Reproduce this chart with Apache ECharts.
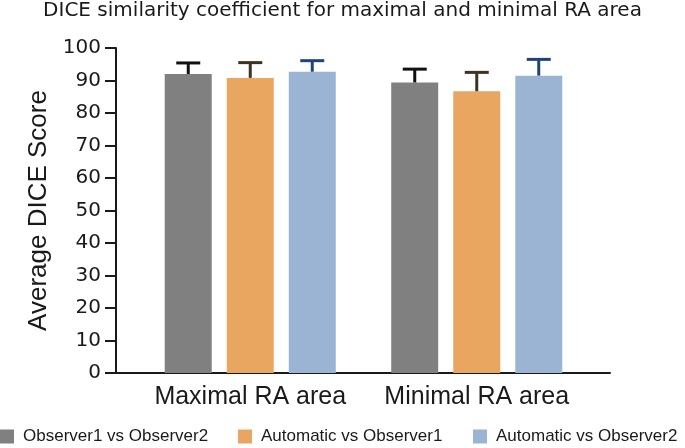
<!DOCTYPE html>
<html>
<head>
<meta charset="utf-8">
<script src="https://cdn.jsdelivr.net/npm/echarts@6/dist/echarts.min.js"></script>
<style>html,body{margin:0;padding:0;background:#fff;}#c{width:685px;height:448px;}</style>
</head>
<body>
<div id="c"></div>
<script>
var categories = ['Maximal RA area', 'Minimal RA area'];
var seriesNames = ['Observer1 vs Observer2', 'Automatic vs Observer1', 'Automatic vs Observer2'];
var obs1VsObs2 = [92.0, 89.4];
var autoVsObs1 = [90.8, 86.7];
var autoVsObs2 = [92.7, 91.5];
var errObs1VsObs2 = [3.4, 4.1];
var errAutoVsObs1 = [4.7, 5.8];
var errAutoVsObs2 = [3.4, 5.0];
var yTicks = [0, 10, 20, 30, 40, 50, 60, 70, 80, 90, 100];

var means = [obs1VsObs2, autoVsObs1, autoVsObs2];
var errs = [errObs1VsObs2, errAutoVsObs1, errAutoVsObs2];
var barColors = ['#808080', '#e8a661', '#9bb4d4'];
var errColors = ['#111111', '#3e3222', '#214476'];
var FONT = 'Liberation Sans, Arial, sans-serif';
var WIDE = 'DejaVu Sans, sans-serif';
var TXT = '#1a1a1a';

var chart = echarts.init(document.getElementById('c'));
var series = [];
means.forEach(function (m, i) {
  series.push({
    name: seriesNames[i], type: 'bar', xAxisIndex: 1, yAxisIndex: 1,
    data: m, barWidth: 47, barGap: '32%',
    itemStyle: { color: barColors[i] }, z: 2
  });
});
means.forEach(function (m, i) {
  series.push({
    type: 'custom', xAxisIndex: 1, yAxisIndex: 1, z: 3,
    data: m.map(function (v, k) { return [k, v, v + errs[i][k]]; }),
    renderItem: function (params, api) {
      var top = api.coord([api.value(0), api.value(2)]);
      var base = api.coord([api.value(0), api.value(1)]);
      var off = (i - 1) * 62;
      var x = top[0] + off;
      var st = { stroke: errColors[i], lineWidth: 3 };
      return { type: 'group', children: [
        { type: 'line', shape: { x1: x, y1: base[1], x2: x, y2: top[1] }, style: st },
        { type: 'line', shape: { x1: x - 12, y1: top[1], x2: x + 12, y2: top[1] }, style: st }
      ]};
    }
  });
});

var legendLefts = [0, 238, 473];
var legends = seriesNames.map(function (n, i) {
  return {
    data: [n], top: 428, left: legendLefts[i], padding: 0,
    itemWidth: 14, itemHeight: 14, icon: 'rect',
    textStyle: { fontFamily: FONT, fontSize: 17, color: TXT, padding: [0, 0, 0, 4] }
  };
});

chart.setOption({
  animation: false,
  title: {
    text: 'DICE similarity coefficient for maximal and minimal RA area',
    left: 'center', top: -4,
    textStyle: { fontFamily: WIDE, fontSize: 20, fontWeight: 'normal', color: TXT }
  },
  legend: legends,
  grid: [
    { left: 116, right: 75, top: 48, bottom: 75 },
    { left: 137, right: 95, top: 48, bottom: 75 }
  ],
  xAxis: [
    { type: 'category', gridIndex: 0, data: categories,
      axisLine: { lineStyle: { color: TXT, width: 2 } },
      axisTick: { show: false }, axisLabel: { show: false } },
    { type: 'category', gridIndex: 1, data: categories,
      axisLine: { show: false }, axisTick: { show: false },
      axisLabel: { fontFamily: FONT, fontSize: 25, color: TXT, margin: 12, interval: 0 } }
  ],
  yAxis: [
    { type: 'value', gridIndex: 0, min: 0, max: 100, interval: 10,
      name: 'Average DICE Score', nameLocation: 'middle', nameGap: 53,
      nameTextStyle: { fontFamily: FONT, fontSize: 26, color: TXT },
      axisLine: { show: true, lineStyle: { color: TXT, width: 2 } },
      axisTick: { show: true, length: 11, lineStyle: { color: TXT, width: 2 } },
      axisLabel: { fontFamily: WIDE, fontSize: 20, color: TXT, margin: 15,
        formatter: function (v) { return yTicks.indexOf(v) >= 0 ? String(v) : ''; } },
      splitLine: { show: false } },
    { type: 'value', gridIndex: 1, min: 0, max: 100, interval: 10, show: false,
      splitLine: { show: false } }
  ],
  series: series
});
</script>
</body>
</html>
